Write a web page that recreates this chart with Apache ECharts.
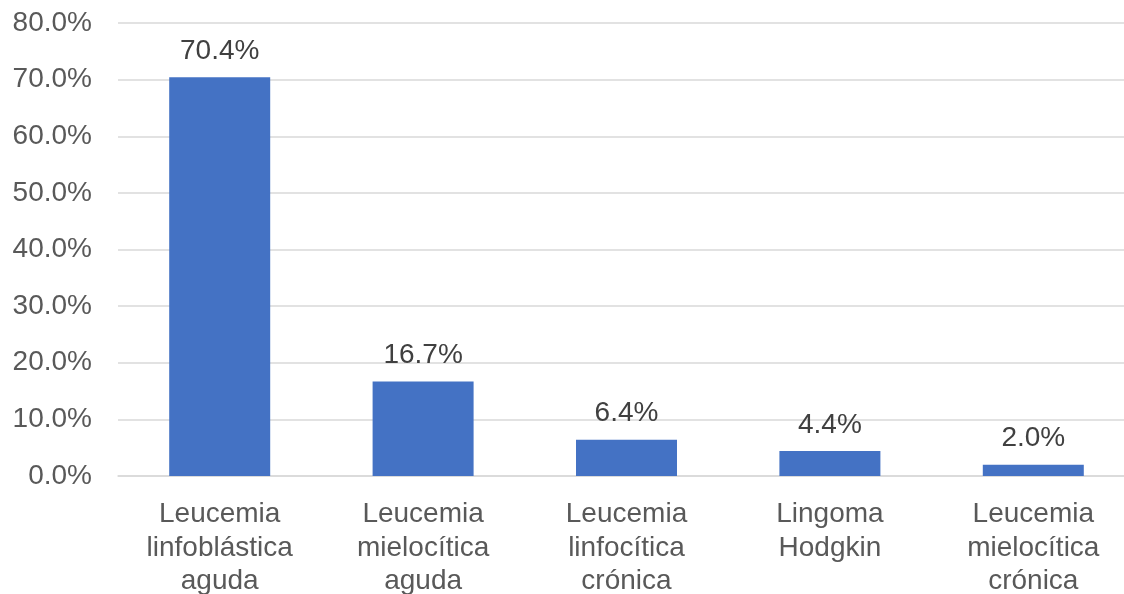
<!DOCTYPE html>
<html>
<head>
<meta charset="utf-8">
<script src="https://cdn.jsdelivr.net/npm/echarts@6/dist/echarts.min.js"></script>
<style>
  html, body { margin: 0; padding: 0; background: #ffffff; overflow: hidden; }
  #chart { width: 1124px; height: 594px; }
</style>
</head>
<body>
<div id="chart"></div>
<script>
// Distribución de diagnósticos (porcentaje de casos)
const categories = [
  'Leucemia\nlinfoblástica\naguda',
  'Leucemia\nmielocítica\naguda',
  'Leucemia\nlinfocítica\ncrónica',
  'Lingoma\nHodgkin',
  'Leucemia\nmielocítica\ncrónica'
];
const percentages = [70.4, 16.7, 6.4, 4.4, 2.0];
const yTicks = { min: 0, max: 80, step: 10 };

const FONT = '"Liberation Sans", Arial, sans-serif';
const chart = echarts.init(document.getElementById('chart'), null, { renderer: 'canvas' });

chart.setOption({
  animation: false,
  backgroundColor: '#ffffff',
  // plot area is placed exactly; it runs a little past the right edge
  grid: {
    left: 118, top: 23, width: 1017, height: 453,
    containLabel: false, outerBoundsMode: 'none'
  },
  xAxis: {
    type: 'category',
    data: categories,
    axisLine: { show: true, lineStyle: { color: '#d9d9d9', width: 1.5 } },
    axisTick: { show: false },
    axisLabel: {
      interval: 0,
      margin: 22,
      color: '#595959',
      fontFamily: FONT,
      fontSize: 28,
      lineHeight: 33.5,
      align: 'center'
    }
  },
  yAxis: {
    type: 'value',
    min: yTicks.min,
    max: yTicks.max,
    interval: yTicks.step,
    axisLine: { show: false },
    axisTick: { show: false },
    splitLine: { show: true, lineStyle: { color: '#d9d9d9', width: 1.5 } },
    axisLabel: {
      margin: 26,
      color: '#595959',
      fontFamily: FONT,
      fontSize: 28,
      formatter: v => v.toFixed(1) + '%'
    }
  },
  series: [{
    type: 'bar',
    data: percentages,
    barWidth: 101,
    itemStyle: { color: '#4472c4' },
    label: {
      show: true,
      position: 'top',
      distance: 12,
      color: '#404040',
      fontFamily: FONT,
      fontSize: 28,
      formatter: p => p.value.toFixed(1) + '%'
    }
  }]
});
</script>
</body>
</html>
